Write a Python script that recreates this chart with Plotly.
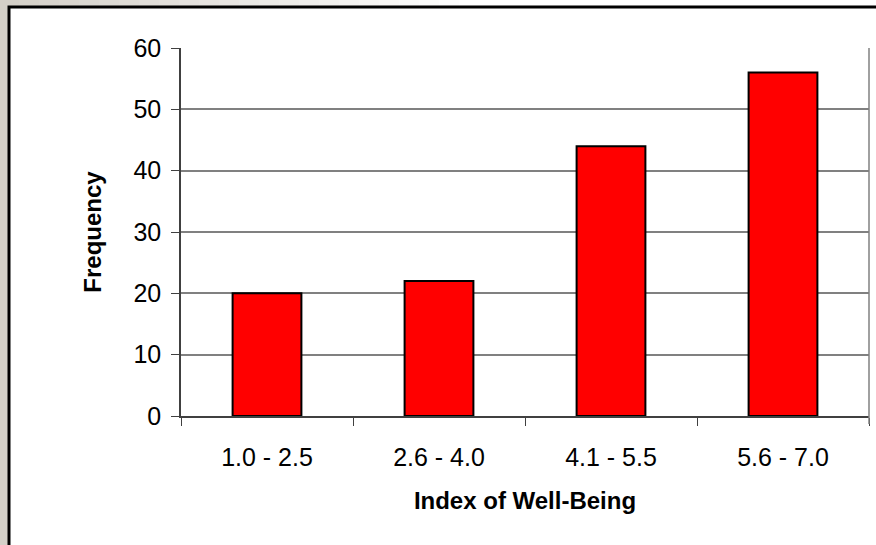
import plotly.graph_objects as go

categories = ["1.0 - 2.5", "2.6 - 4.0", "4.1 - 5.5", "5.6 - 7.0"]
frequency = [20, 22, 44, 56]
y_ticks = [0, 10, 20, 30, 40, 50, 60]

W, H = 876, 545
L, R, T, B = 181, 7, 48, 129
pw, ph = W - L - R, H - T - B

def px_x(p):
    return (p - L) / pw

def px_y(p):
    return (H - B - p) / ph

FONT = "Arial, Liberation Sans, sans-serif"

fig = go.Figure()
fig.add_trace(go.Bar(
    x=categories, y=frequency, width=0.4,
    marker=dict(color="#ff0000", line=dict(color="#000000", width=2)),
    showlegend=False, hoverinfo="x+y",
))

shapes = []
# top gradient strip (beige -> white)
beige = (212, 208, 200)
n = 24
for i in range(n):
    t = i / (n - 1)
    c = tuple(int(round(b + (255 - b) * t)) for b in beige)
    shapes.append(dict(type="rect", xref="paper", yref="paper", layer="below",
                       x0=px_x(-1 + i * 20), x1=px_x(-1 + (i + 1) * 20 + 1),
                       y0=px_y(8), y1=px_y(-1), line=dict(width=0),
                       fillcolor="rgb(%d,%d,%d)" % c))
shapes.append(dict(type="rect", xref="paper", yref="paper", layer="below",
                   x0=px_x(470), x1=px_x(890), y0=px_y(8), y1=px_y(-1),
                   line=dict(width=0), fillcolor="#ffffff"))
# white panel with black frame
shapes.append(dict(type="rect", xref="paper", yref="paper", layer="below",
                   x0=px_x(9), x1=px_x(890), y0=px_y(560), y1=px_y(7),
                   line=dict(color="#000000", width=3), fillcolor="#ffffff"))
# right border of plot area
shapes.append(dict(type="line", xref="paper", yref="paper", layer="above",
                   x0=1, x1=1, y0=px_y(424), y1=1,
                   line=dict(color="#808080", width=1.5)))

fig.update_layout(
    width=W, height=H,
    margin=dict(l=L, r=R, t=T, b=B, pad=0),
    paper_bgcolor="rgb(212,208,200)",
    plot_bgcolor="rgba(0,0,0,0)",
    font=dict(family=FONT, size=25, color="#000000"),
    shapes=shapes,
    bargap=0.6,
    xaxis=dict(
        type="category", tickson="boundaries",
        ticks="outside", ticklen=8, tickcolor="#404040", tickwidth=1,
        showline=True, linecolor="#404040", linewidth=1.5,
        showgrid=False, zeroline=False,
        tickfont=dict(family=FONT, size=25, color="#000000"),
        ticklabelstandoff=18,
        title=dict(text="<b>Index of Well-Being</b>", standoff=22,
                   font=dict(family=FONT, size=24, color="#000000")),
        range=[-0.5, 3.5], fixedrange=True,
    ),
    yaxis=dict(
        range=[0, 60], tickvals=y_ticks,
        ticks="outside", ticklen=8, tickcolor="#404040", tickwidth=1,
        showline=True, linecolor="#404040", linewidth=1.5,
        showgrid=True, gridcolor="#808080", gridwidth=1.5,
        zeroline=False,
        tickfont=dict(family=FONT, size=25, color="#000000"),
        ticklabelstandoff=5,
        title=dict(text="<b>Frequency</b>", standoff=25,
                   font=dict(family=FONT, size=24, color="#000000")),
        fixedrange=True,
    ),
)

fig.write_html("out.html", config={"displayModeBar": False},
               post_script="document.body.style.margin='0';document.body.style.padding='0';")
